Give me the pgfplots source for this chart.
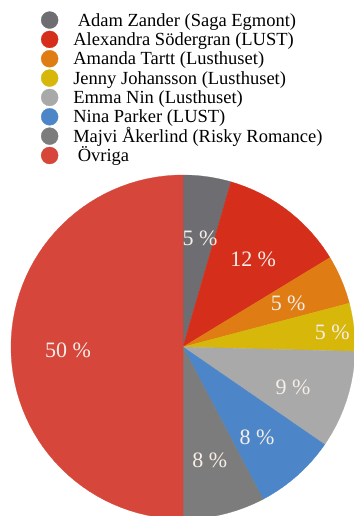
\documentclass[border=0pt]{standalone}
\usepackage{fontspec}
\setmainfont{Liberation Serif}
\usepackage{pgfplots}
\pgfplotsset{compat=1.18}
\usepgfplotslibrary{polar}
\definecolor{cAdam}{HTML}{6E6E72}
\definecolor{cAlex}{HTML}{D52E1B}
\definecolor{cAmanda}{HTML}{DF7C14}
\definecolor{cJenny}{HTML}{D6B70A}
\definecolor{cEmma}{HTML}{A9A9A9}
\definecolor{cNina}{HTML}{4D86C8}
\definecolor{cMajvi}{HTML}{7C7C7C}
\definecolor{cOvriga}{HTML}{D6463A}
\definecolor{lbl}{HTML}{F6EEE8}
\tikzset{lab/.style={text=lbl, font=\fontsize{22}{25}\selectfont, inner sep=0pt}}
\begin{document}
\begin{tikzpicture}
\begin{polaraxis}[
  hide axis, scale only axis, width=344pt, height=344pt,
  ymin=0, ymax=172, xmin=0, xmax=360,
  at={(183pt,169pt)}, anchor=center, clip=false,
  legend cell align=left,
  legend style={draw=none, fill=none, at={(0.0872,1.4756)}, anchor=north west,
    inner sep=0pt, outer sep=0pt, font=\fontsize{18.5}{19.4}\selectfont,
    row sep=0pt, column sep=15pt,
    nodes={inner sep=0pt, outer sep=0pt, text height=13.5pt, text depth=4.7pt, anchor=base west}},
  legend image code/.code={\fill[#1] (0pt,6pt) circle (8.5pt);},
  every axis plot/.append style={line width=0.3pt},
]
\addplot[fill=cAdam, draw=cAdam] coordinates {(0,0) (90,172) (87,172) (84,172) (81,172) (78,172) (75,172) (73.8,172) (0,0)};
\addlegendentry{\hspace*{4.5pt}Adam Zander (Saga Egmont)}
\addplot[fill=cAlex, draw=cAlex] coordinates {(0,0) (73.8,172) (72,172) (69,172) (66,172) (63,172) (60,172) (57,172) (54,172) (51,172) (48,172) (45,172) (42,172) (39,172) (36,172) (33,172) (31.32,172) (0,0)};
\addlegendentry{Alexandra Södergran (LUST)}
\addplot[fill=cAmanda, draw=cAmanda] coordinates {(0,0) (31.32,172) (30,172) (27,172) (24,172) (21,172) (18,172) (15,172) (14.76,172) (0,0)};
\addlegendentry{Amanda Tartt (Lusthuset)}
\addplot[fill=cJenny, draw=cJenny] coordinates {(0,0) (14.76,172) (12,172) (9,172) (6,172) (3,172) (0,172) (-1.44,172) (0,0)};
\addlegendentry{Jenny Johansson (Lusthuset)}
\addplot[fill=cEmma, draw=cEmma] coordinates {(0,0) (-1.44,172) (-3,172) (-6,172) (-9,172) (-12,172) (-15,172) (-18,172) (-21,172) (-24,172) (-27,172) (-30,172) (-33,172) (-34.56,172) (0,0)};
\addlegendentry{Emma Nin (Lusthuset)}
\addplot[fill=cNina, draw=cNina] coordinates {(0,0) (-34.56,172) (-36,172) (-39,172) (-42,172) (-45,172) (-48,172) (-51,172) (-54,172) (-57,172) (-60,172) (-62.28,172) (0,0)};
\addlegendentry{Nina Parker (LUST)}
\addplot[fill=cMajvi, draw=cMajvi] coordinates {(0,0) (-62.28,172) (-63,172) (-66,172) (-69,172) (-72,172) (-75,172) (-78,172) (-81,172) (-84,172) (-87,172) (-90,172) (0,0)};
\addlegendentry{Majvi Åkerlind (Risky Romance)}
\addplot[fill=cOvriga, draw=cOvriga] coordinates {(0,0) (90,172) (93,172) (96,172) (99,172) (102,172) (105,172) (108,172) (111,172) (114,172) (117,172) (120,172) (123,172) (126,172) (129,172) (132,172) (135,172) (138,172) (141,172) (144,172) (147,172) (150,172) (153,172) (156,172) (159,172) (162,172) (165,172) (168,172) (171,172) (174,172) (177,172) (180,172) (183,172) (186,172) (189,172) (192,172) (195,172) (198,172) (201,172) (204,172) (207,172) (210,172) (213,172) (216,172) (219,172) (222,172) (225,172) (228,172) (231,172) (234,172) (237,172) (240,172) (243,172) (246,172) (249,172) (252,172) (255,172) (258,172) (261,172) (264,172) (267,172) (270,172) (0,0)};
\addlegendentry{\hspace*{4.5pt}Övriga}
\node[lab] at (axis cs:81.1,110) {5 \%};
\node[lab] at (axis cs:51.2,112) {12 \%};
\node[lab] at (axis cs:22.7,114) {5 \%};
\node[lab] at (axis cs:5.7,150) {5 \%};
\node[lab] at (axis cs:-20,117) {9 \%};
\node[lab] at (axis cs:-50.6,116.5) {8 \%};
\node[lab] at (axis cs:-76.6,116) {8 \%};
\node[lab] at (axis cs:181.5,115) {50 \%};
\end{polaraxis}
\pgfresetboundingbox
\path[use as bounding box] (0,0) rectangle (353pt,516pt);
\end{tikzpicture}
\end{document}
